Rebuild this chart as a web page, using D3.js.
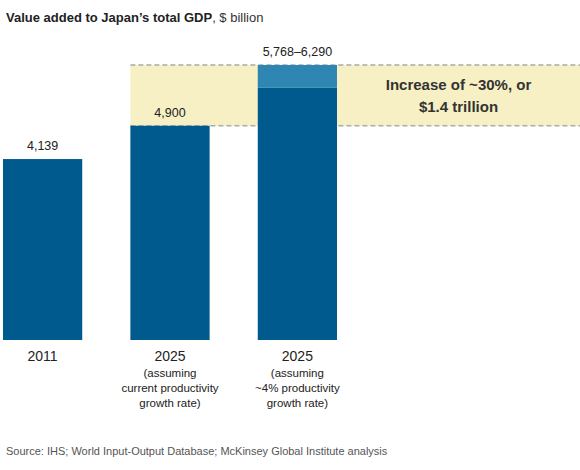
<!DOCTYPE html>
<html><head><meta charset="utf-8">
<script src="https://cdn.jsdelivr.net/npm/d3@7"></script>
<style>body{margin:0;background:#fff}text{font-family:Arial,"Liberation Sans",sans-serif}</style>
</head><body><svg id="chart" width="580" height="470"></svg>
<script>
// chart data
const categories = ["2011", "2025a", "2025b"];
const baseValues = [4139, 4900, 5768];
const upperValues = [null, null, 6290];
const valueLabels = ["4,139", "4,900", "5,768\u20136,290"];
const tickLabels = [
  ["2011"],
  ["2025", "(assuming", "current productivity", "growth rate)"],
  ["2025", "(assuming", "~4% productivity", "growth rate)"]
];

const svg = d3.select("#chart");
const baseline = 340;

const x = d3.scaleBand().domain(categories).range([3, 337]).paddingInner(0.378).paddingOuter(0);
const y = d3.scaleLinear().domain([0, 6290]).range([baseline, 65]);

// title
svg.append("text").attr("x", 6).attr("y", 22).attr("font-size", 13)
  .call(t => {
    t.append("tspan").attr("font-weight", "bold").attr("fill", "#222").text("Value added to Japan\u2019s total GDP");
    t.append("tspan").attr("fill", "#333").text(", $ billion");
  });

// highlight band between 2025 current and 2025 high
const bandTop = y(upperValues[2]), bandBottom = y(baseValues[1]);
svg.append("rect").attr("x", x("2025a")).attr("y", bandTop)
  .attr("width", 580 - x("2025a")).attr("height", bandBottom - bandTop).attr("fill", "#f6f0c4");
[bandTop, bandBottom].forEach(yy => {
  svg.append("line").attr("x1", x("2025a")).attr("x2", 580).attr("y1", yy).attr("y2", yy)
    .attr("stroke", "#aaa").attr("stroke-width", 1.5).attr("stroke-dasharray", "5,3");
});

// bars
svg.selectAll("rect.base").data(categories).join("rect").attr("class", "base")
  .attr("x", d => x(d)).attr("width", x.bandwidth())
  .attr("y", (d, i) => y(baseValues[i])).attr("height", (d, i) => baseline - y(baseValues[i]))
  .attr("fill", "#015a8e");
categories.forEach((d, i) => {
  if (upperValues[i] == null) return;
  svg.append("rect").attr("x", x(d)).attr("width", x.bandwidth())
    .attr("y", y(upperValues[i])).attr("height", y(baseValues[i]) - y(upperValues[i]))
    .attr("fill", "#2f86b3");
});

// value labels
categories.forEach((d, i) => {
  const top = upperValues[i] != null ? upperValues[i] : baseValues[i];
  svg.append("text").attr("x", x(d) + x.bandwidth() / 2).attr("y", y(top) - 9)
    .attr("text-anchor", "middle").attr("font-size", 12.5).attr("fill", "#222").text(valueLabels[i]);
});

// annotation
const ax = (x("2025b") + x.bandwidth() + 580) / 2;
svg.append("text").attr("x", ax).attr("y", 90).attr("text-anchor", "middle")
  .attr("font-size", 15).attr("font-weight", "bold").attr("fill", "#333").text("Increase of ~30%, or");
svg.append("text").attr("x", ax).attr("y", 112).attr("text-anchor", "middle")
  .attr("font-size", 15).attr("font-weight", "bold").attr("fill", "#333").text("$1.4 trillion");

// category labels
categories.forEach((d, i) => {
  const t = svg.append("text").attr("x", x(d) + x.bandwidth() / 2).attr("y", 361)
    .attr("text-anchor", "middle").attr("fill", "#222");
  tickLabels[i].forEach((line, j) => {
    t.append("tspan").attr("x", x(d) + x.bandwidth() / 2).attr("dy", j === 0 ? 0 : (j === 1 ? 16 : 15))
      .attr("font-size", j === 0 ? 14 : 11.5).text(line);
  });
});

// source
svg.append("text").attr("x", 6).attr("y", 455).attr("font-size", 11).attr("fill", "#555")
  .text("Source: IHS; World Input-Output Database; McKinsey Global Institute analysis");
</script></body></html>
